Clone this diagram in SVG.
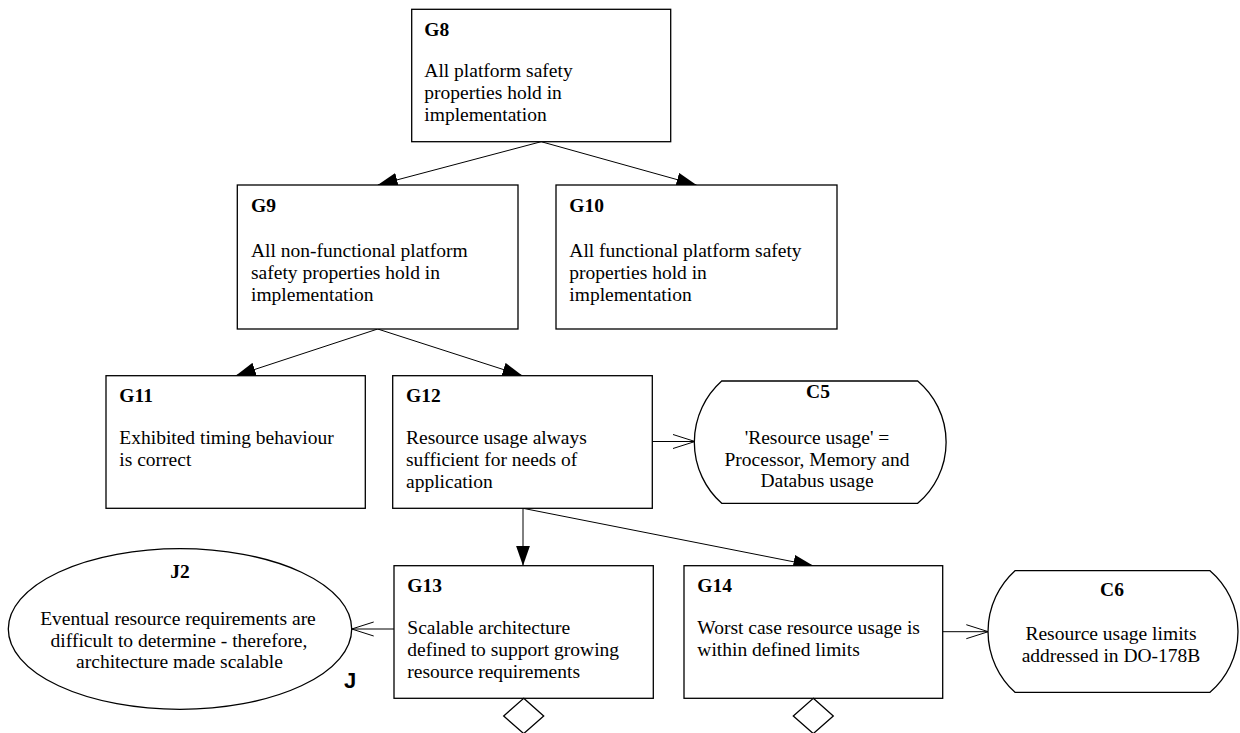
<svg xmlns="http://www.w3.org/2000/svg" width="1240" height="733" viewBox="0 0 1240 733">
  <style>
    .box { fill: #ffffff; stroke: #000000; stroke-width: 1.3; }
    .ctx { fill: #ffffff; stroke: #000000; stroke-width: 1.3; }
    .edge { fill: none; stroke: #000000; stroke-width: 1; }
    .id { font-family: "Liberation Serif", "Times New Roman", serif; font-size: 19.5px; font-weight: bold; fill: #000000; }
    .txt { font-family: "Liberation Serif", "Times New Roman", serif; font-size: 19.5px; fill: #000000; }
    .mid { text-anchor: middle; }
    .tag { font-family: "Liberation Sans", Arial, sans-serif; font-size: 22px; font-weight: bold; fill: #000000; }
  </style>
  <defs>
    <marker id="solid" markerUnits="userSpaceOnUse" viewBox="0 0 20 14" markerWidth="20" markerHeight="14" refX="20" refY="7" orient="auto">
      <path d="M0,0 L20,7 L0,14 Z" fill="#000000"/>
    </marker>
    <marker id="open" markerUnits="userSpaceOnUse" viewBox="-1 -1 24 16" markerWidth="24" markerHeight="16" refX="22" refY="7" orient="auto">
      <path d="M0,0 L22,7 L0,14" fill="none" stroke="#000000" stroke-width="1"/>
    </marker>
  </defs>

  <rect width="1240" height="733" fill="#ffffff"/>

  <!-- connectors -->
  <g id="connectors">
    <line class="edge" x1="541.2" y1="141.7" x2="377.7" y2="185" marker-end="url(#solid)"/>
    <line class="edge" x1="541.2" y1="141.7" x2="696.5" y2="185" marker-end="url(#solid)"/>
    <line class="edge" x1="377.7" y1="329" x2="235.7" y2="375.7" marker-end="url(#solid)"/>
    <line class="edge" x1="377.7" y1="329" x2="522.5" y2="375.7" marker-end="url(#solid)"/>
    <line class="edge" x1="652.3" y1="441.5" x2="695" y2="441.5" marker-end="url(#open)"/>
    <line class="edge" x1="523" y1="508.3" x2="523" y2="565.7" marker-end="url(#solid)"/>
    <line class="edge" x1="523" y1="508.3" x2="813.3" y2="565.7" marker-end="url(#solid)"/>
    <line class="edge" x1="394" y1="629" x2="351.7" y2="629" marker-end="url(#open)"/>
    <line class="edge" x1="942.7" y1="631.7" x2="988.3" y2="631.7" marker-end="url(#open)"/>
  </g>

  <!-- goals -->
  <g id="G8">
    <rect class="box" x="411.7" y="9.3" width="259" height="132.4"/>
    <text class="id" x="424.3" y="36">G8</text>
    <text class="txt" x="424.3" y="77.3">All platform safety</text>
    <text class="txt" x="424.3" y="99.3">properties hold in</text>
    <text class="txt" x="424.3" y="121.3">implementation</text>
  </g>

  <g id="G9">
    <rect class="box" x="237.3" y="185" width="280.7" height="144"/>
    <text class="id" x="251" y="211.7">G9</text>
    <text class="txt" x="251" y="257.3">All non-functional platform</text>
    <text class="txt" x="251" y="279.3">safety properties hold in</text>
    <text class="txt" x="251" y="301.3">implementation</text>
  </g>

  <g id="G10">
    <rect class="box" x="556" y="185" width="281" height="144"/>
    <text class="id" x="569.3" y="211.7">G10</text>
    <text class="txt" x="569.3" y="257.3">All functional platform safety</text>
    <text class="txt" x="569.3" y="279.3">properties hold in</text>
    <text class="txt" x="569.3" y="301.3">implementation</text>
  </g>

  <g id="G11">
    <rect class="box" x="106" y="375.7" width="259.3" height="132.6"/>
    <text class="id" x="119.3" y="401.7">G11</text>
    <text class="txt" x="119.3" y="444">Exhibited timing behaviour</text>
    <text class="txt" x="119.3" y="466">is correct</text>
  </g>

  <g id="G12">
    <rect class="box" x="392.7" y="375.7" width="259.6" height="132.6"/>
    <text class="id" x="406" y="401.7">G12</text>
    <text class="txt" x="406" y="444">Resource usage always</text>
    <text class="txt" x="406" y="466">sufficient for needs of</text>
    <text class="txt" x="406" y="488">application</text>
  </g>

  <g id="G13">
    <rect class="box" x="394" y="565.7" width="259.3" height="132.6"/>
    <text class="id" x="407.3" y="591.7">G13</text>
    <text class="txt" x="407.3" y="634">Scalable architecture</text>
    <text class="txt" x="407.3" y="656">defined to support growing</text>
    <text class="txt" x="407.3" y="678">resource requirements</text>
    <path class="box" d="M523.7,698.3 L543.7,716 L523.7,733.6 L503.7,716 Z"/>
  </g>

  <g id="G14">
    <rect class="box" x="684" y="565.7" width="258.7" height="132.6"/>
    <text class="id" x="697.3" y="591.7">G14</text>
    <text class="txt" x="697.3" y="634">Worst case resource usage is</text>
    <text class="txt" x="697.3" y="656">within defined limits</text>
    <path class="box" d="M813.3,698.3 L833.3,716 L813.3,733.6 L793.3,716 Z"/>
  </g>

  <!-- contexts -->
  <g id="C5">
    <path class="ctx" d="M721.7,381 L917.7,381 A80,80 0 0 1 917.7,503.3 L721.7,503.3 A82,82 0 0 1 721.7,381 Z"/>
    <text class="id mid" x="818" y="398.3">C5</text>
    <text class="txt mid" x="817" y="444">'Resource usage' =</text>
    <text class="txt mid" x="817" y="465.7">Processor, Memory and</text>
    <text class="txt mid" x="817" y="487">Databus usage</text>
  </g>

  <g id="C6">
    <path class="ctx" d="M1015,570.7 L1210,570.7 A80,80 0 0 1 1210,692.3 L1015,692.3 A82,82 0 0 1 1015,570.7 Z"/>
    <text class="id mid" x="1112" y="596.3">C6</text>
    <text class="txt mid" x="1111" y="640">Resource usage limits</text>
    <text class="txt mid" x="1111" y="661.7">addressed in DO-178B</text>
  </g>

  <!-- justification -->
  <g id="J2">
    <ellipse class="ctx" cx="180" cy="629" rx="171.7" ry="80.3"/>
    <text class="id mid" x="180" y="578.3">J2</text>
    <text class="txt mid" x="178" y="625">Eventual resource requirements are</text>
    <text class="txt mid" x="179" y="646.7">difficult to determine - therefore,</text>
    <text class="txt mid" x="179.5" y="668.3">architecture made scalable</text>
    <text class="tag" x="344" y="688.3">J</text>
  </g>
</svg>
